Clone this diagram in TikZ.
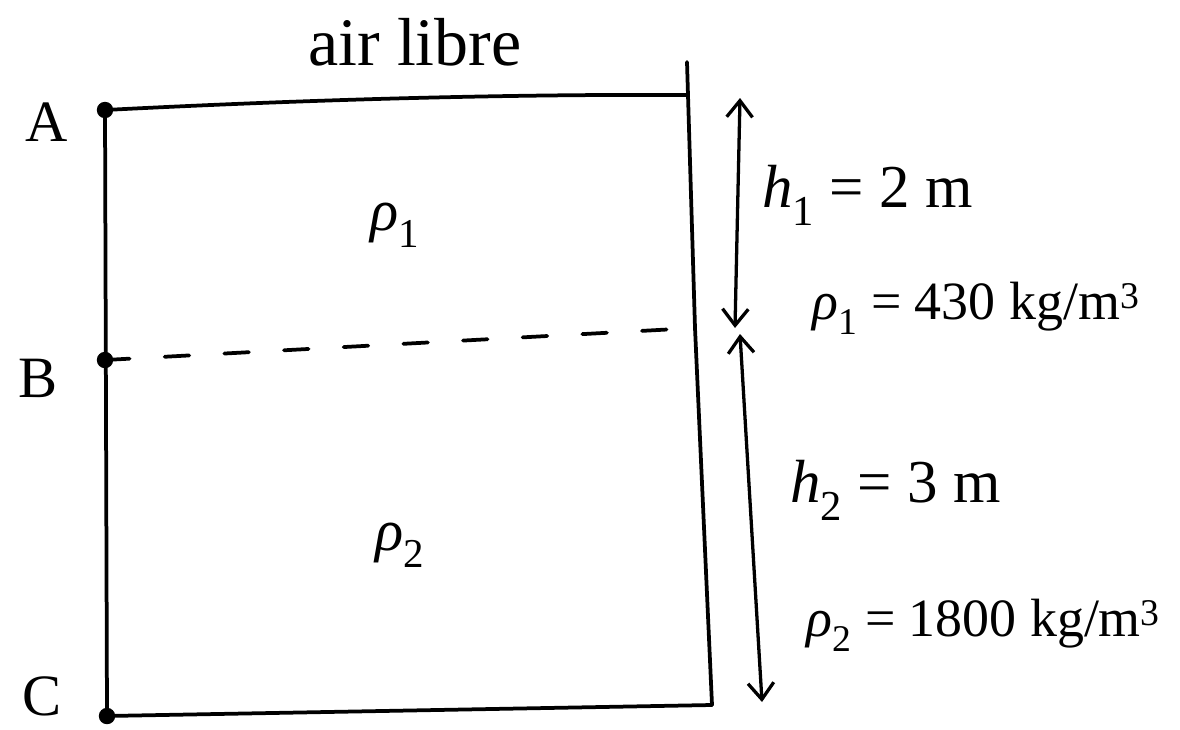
\documentclass[tikz,border=0pt]{standalone}
\usepackage{fontspec}
\setmainfont{Liberation Serif}
\usetikzlibrary{arrows.meta}
\newcommand{\rhoit}[1]{\textit{ρ}\textsubscript{#1}}
\newcommand{\hit}[1]{\textit{h}\textsubscript{#1}}
\begin{document}
\begin{tikzpicture}[x=0.03cm,y=-0.03cm,
  wall/.style={line width=3.2pt,line cap=round},
  dimarrow/.style={line width=2.8pt,{Straight Barb[length=14pt,width=22pt,line width=2.8pt]}-{Straight Barb[length=14pt,width=22pt,line width=2.8pt]}},
  lbl/.style={font=\fontsize{50}{60}\selectfont,inner sep=0pt},
  val/.style={font=\fontsize{46}{54}\selectfont,inner sep=0pt,anchor=west},
  hval/.style={font=\fontsize{52}{60}\selectfont,inner sep=0pt,anchor=west},
  pt/.style={circle,fill=black,inner sep=0pt,minimum size=14pt}]
\useasboundingbox (0,0) rectangle (1180,729);
% corners
\coordinate (A) at (105,110);
\coordinate (B) at (105,360);
\coordinate (C) at (107,716);
\coordinate (TR) at (688,95);
\coordinate (RT) at (687,62);
\coordinate (RM) at (695,328);
\coordinate (BR) at (712,705);
% tank
\draw[wall] (A) -- (C);
\draw[wall] (A) .. controls (300,100) and (500,94) .. (TR);
\draw[wall] (RT) -- (RM) -- (BR);
\draw[wall] (C) -- (BR);
\draw[wall,dash pattern=on 21pt off 30pt] (B) -- (RM);
% points
\node[pt] (pA) at (A) {};
\node[pt] (pB) at (B) {};
\node[pt] (pC) at (C) {};
% labels
\node[lbl] (lA) at (47,122) {A};
\node[lbl] (lB) at (38,378) {B};
\node[lbl] (lC) at (42,696) {C};
\node[lbl,font=\fontsize{58}{66}\selectfont] (air) at (415,42) {air libre};
\node[lbl] (r1) at (395,225) {\rhoit{1}};
\node[lbl] (r2) at (400,545) {\rhoit{2}};
% dimension arrows
\coordinate (d1t) at (740,98);
\coordinate (d1b) at (735,328);
\coordinate (d2t) at (740,334);
\coordinate (d2b) at (762,702);
\draw[dimarrow] (d1t) -- (d1b);
\draw[dimarrow] (d2t) -- (d2b);
% values
\node[hval] (h1) at (762,195) {\hit{1} = 2 m};
\node[val] (v1) at (812,308) {\rhoit{1} = 430 kg/m\textsuperscript{3}};
\node[hval] (h2) at (790,490) {\hit{2} = 3 m};
\node[val] (v2) at (806,625) {\rhoit{2} = 1800 kg/m\textsuperscript{3}};
\end{tikzpicture}
\end{document}
